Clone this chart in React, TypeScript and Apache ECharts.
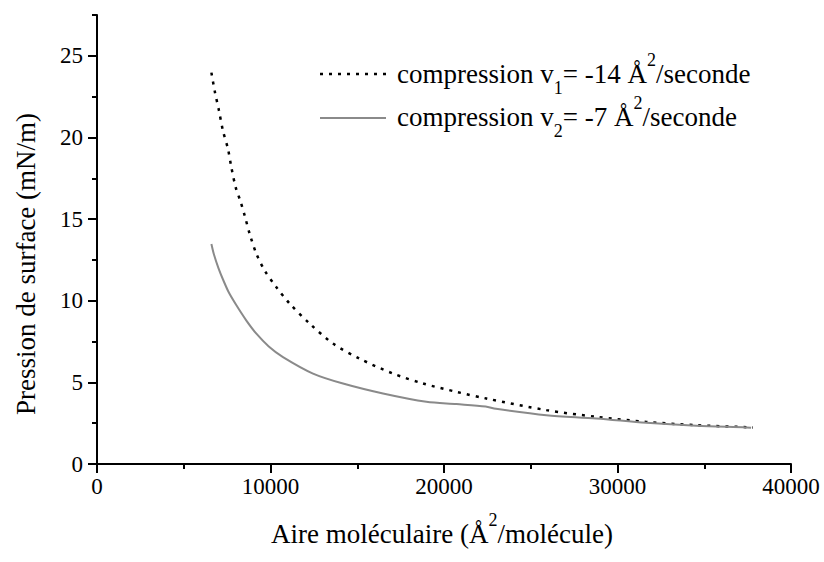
import React, { useEffect, useRef } from "react";
import * as echarts from "echarts";

// Fast compression v1 = -14 Å²/s (dotted)
const areaV1 = [6594, 6784, 7032, 7262, 7550, 7746, 7994, 8265, 8513, 8801, 9187, 9666, 10340, 11107, 12260, 13602, 15141, 17061, 18790, 20715, 22444, 25902, 28784, 31666, 34548, 37810];
const pressV1 = [23.97, 22.85, 21.63, 20.4, 19.29, 18.16, 16.94, 16.1, 15.21, 14.09, 12.87, 11.85, 10.83, 9.82, 8.6, 7.38, 6.45, 5.54, 4.93, 4.42, 4.01, 3.3, 2.89, 2.58, 2.38, 2.24];

// Slow compression v2 = -7 Å²/s (grey solid)
const areaV2 = [6594, 6750, 7000, 7262, 7600, 8035, 8600, 9187, 9900, 10720, 12450, 14179, 16484, 18985, 20715, 22400, 23000, 25902, 28784, 31666, 34548, 37430, 37700];
const pressV2 = [13.48, 12.8, 12.0, 11.3, 10.5, 9.72, 8.8, 7.98, 7.2, 6.55, 5.54, 4.93, 4.32, 3.81, 3.67, 3.52, 3.38, 2.99, 2.79, 2.52, 2.34, 2.24, 2.22];

const xMajorTicks = [0, 10000, 20000, 30000, 40000];
const yMajorTicks = [0, 5, 10, 15, 20, 25];

const FONT = "'Liberation Serif', 'Times New Roman', serif";

const richStyles = {
  m: { fontSize: 27, fontFamily: FONT, fill: "#000", color: "#000", lineHeight: 46 },
  sub: { fontSize: 18, fontFamily: FONT, fill: "#000", color: "#000", lineHeight: 19, verticalAlign: "bottom" },
  sup: { fontSize: 18, fontFamily: FONT, fill: "#000", color: "#000", lineHeight: 19, verticalAlign: "top" },
};

export default function App() {
  const ref = useRef<HTMLDivElement>(null);
  useEffect(() => {
    if (!ref.current) return;
    const chart = echarts.init(ref.current, null, { renderer: "svg" });
    const axisLine = { show: true, lineStyle: { color: "#000", width: 2 } };
    const labelStyle = { color: "#000", fontFamily: FONT, fontSize: 23 };
    chart.setOption({
      animation: false,
      backgroundColor: "#fff",
      grid: { left: 97, right: 33, top: 15, bottom: 98, containLabel: false },
      xAxis: [
        {
          type: "value",
          min: 0,
          max: 40000,
          interval: 5000,
          axisLine,
          axisTick: { show: true, length: 5, lineStyle: { color: "#000", width: 2 } },
          axisLabel: {
            ...labelStyle,
            margin: 11,
            customValues: xMajorTicks,
            formatter: (v: number) => String(v),
          },
          splitLine: { show: false },
        },
        {
          type: "value",
          position: "bottom",
          min: 0,
          max: 40000,
          axisLine: { show: false },
          axisTick: { show: true, length: 9, customValues: xMajorTicks, lineStyle: { color: "#000", width: 2 } },
          axisLabel: { show: false },
          splitLine: { show: false },
        },
      ],
      yAxis: [
        {
          type: "value",
          min: 0,
          max: 27.5,
          interval: 2.5,
          axisLine,
          axisTick: { show: true, length: 5, lineStyle: { color: "#000", width: 2 } },
          axisLabel: {
            ...labelStyle,
            margin: 14,
            customValues: yMajorTicks,
            formatter: (v: number) => String(v),
          },
          splitLine: { show: false },
        },
        {
          type: "value",
          position: "left",
          min: 0,
          max: 27.5,
          axisLine: { show: false },
          axisTick: { show: true, length: 9, customValues: yMajorTicks, lineStyle: { color: "#000", width: 2 } },
          axisLabel: { show: false },
          splitLine: { show: false },
        },
      ],
      series: [
        {
          type: "line",
          name: "v1",
          xAxisIndex: 0,
          yAxisIndex: 0,
          data: areaV1.map((x, i) => [x, pressV1[i]]),
          showSymbol: false,
          smooth: 0.3,
          lineStyle: { color: "#000", width: 2.5, type: [3, 6] },
        },
        {
          type: "line",
          name: "v2",
          xAxisIndex: 0,
          yAxisIndex: 0,
          data: areaV2.map((x, i) => [x, pressV2[i]]),
          showSymbol: false,
          smooth: 0.3,
          lineStyle: { color: "#8a8a8a", width: 2 },
        },
      ],
      graphic: [
        {
          type: "line",
          shape: { x1: 320, y1: 74, x2: 386, y2: 74 },
          style: { stroke: "#000", lineWidth: 2.5, lineDash: [3, 6] },
        },
        {
          type: "text",
          x: 397,
          y: 74,
          style: {
            text: "{m|compression v}{sub|1}{m|= -14 Å}{sup|2}{m|/seconde}",
            rich: richStyles,
            align: "left",
            verticalAlign: "middle",
          },
        },
        {
          type: "line",
          shape: { x1: 320, y1: 118, x2: 386, y2: 118 },
          style: { stroke: "#8a8a8a", lineWidth: 2 },
        },
        {
          type: "text",
          x: 397,
          y: 117,
          style: {
            text: "{m|compression v}{sub|2}{m|= -7 Å}{sup|2}{m|/seconde}",
            rich: richStyles,
            align: "left",
            verticalAlign: "middle",
          },
        },
        {
          type: "text",
          x: 442,
          y: 534,
          style: {
            text: "{m|Aire moléculaire (Å}{sup|2}{m|/molécule)}",
            rich: richStyles,
            align: "center",
            verticalAlign: "middle",
          },
        },
        {
          type: "text",
          x: 26,
          y: 264,
          rotation: Math.PI / 2,
          style: {
            text: "Pression de surface (mN/m)",
            fontSize: 27,
            fontFamily: FONT,
            fill: "#000",
            align: "center",
            verticalAlign: "middle",
          },
        },
      ],
    });
    return () => chart.dispose();
  }, []);
  return (
    <div
      ref={ref}
      style={{ position: "absolute", left: 0, top: 0, width: 824, height: 562, background: "#fff" }}
    />
  );
}
